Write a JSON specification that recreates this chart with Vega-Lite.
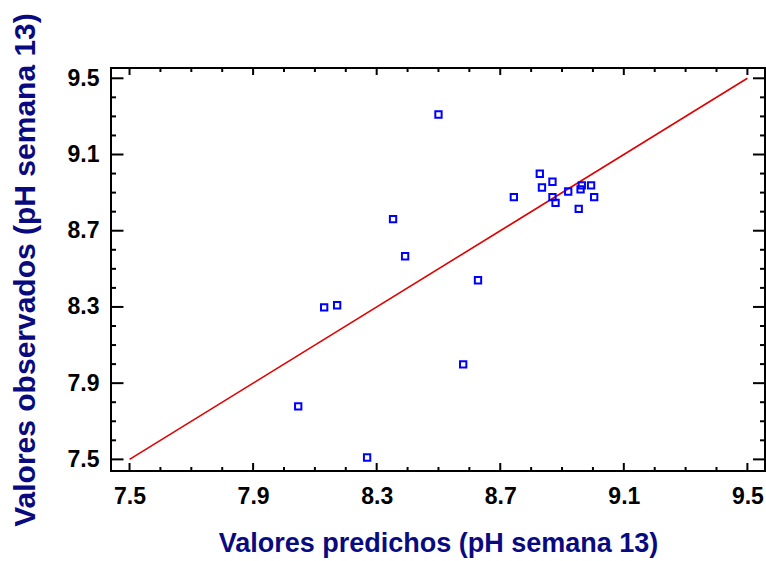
{
  "$schema": "https://vega.github.io/schema/vega-lite/v6.json",
  "width": 654,
  "height": 403,
  "autosize": {"type": "none"},
  "padding": {"left": 111, "top": 68, "right": 1, "bottom": 90},
  "background": "white",
  "config": {
    "view": {"stroke": "black", "strokeWidth": 2},
    "axis": {
      "grid": false,
      "domain": false,
      "ticks": false,
      "labelFont": "Liberation Sans",
      "labelFontWeight": "bold",
      "labelFontSize": 23,
      "labelColor": "black",
      "labelOverlap": false,
      "labelFlush": false,
      "titleFont": "Liberation Sans",
      "titleFontWeight": "bold",
      "titleColor": "#0a0a80"
    }
  },
  "datasets": {
    "points": [
      {"predicho": 8.50, "observado": 9.31},
      {"predicho": 8.353, "observado": 8.761},
      {"predicho": 8.392, "observado": 8.566},
      {"predicho": 8.628, "observado": 8.440},
      {"predicho": 8.130, "observado": 8.298},
      {"predicho": 8.172, "observado": 8.309},
      {"predicho": 8.580, "observado": 7.999},
      {"predicho": 8.046, "observado": 7.778},
      {"predicho": 8.269, "observado": 7.510},
      {"predicho": 8.744, "observado": 8.876},
      {"predicho": 8.828, "observado": 8.999},
      {"predicho": 8.869, "observado": 8.957},
      {"predicho": 8.835, "observado": 8.927},
      {"predicho": 8.869, "observado": 8.876},
      {"predicho": 8.879, "observado": 8.846},
      {"predicho": 8.920, "observado": 8.906},
      {"predicho": 8.954, "observado": 8.815},
      {"predicho": 8.964, "observado": 8.938},
      {"predicho": 8.960, "observado": 8.917},
      {"predicho": 8.994, "observado": 8.938},
      {"predicho": 9.004, "observado": 8.876}
    ],
    "fit": [
      {"predicho": 7.5, "observado": 7.5},
      {"predicho": 9.5, "observado": 9.5}
    ],
    "marcas": [
      {"valor": 7.5, "tipo": "mayor"}, {"valor": 7.6, "tipo": "menor"}, {"valor": 7.7, "tipo": "menor"},
      {"valor": 7.8, "tipo": "menor"}, {"valor": 7.9, "tipo": "mayor"}, {"valor": 8.0, "tipo": "menor"},
      {"valor": 8.1, "tipo": "menor"}, {"valor": 8.2, "tipo": "menor"}, {"valor": 8.3, "tipo": "mayor"},
      {"valor": 8.4, "tipo": "menor"}, {"valor": 8.5, "tipo": "menor"}, {"valor": 8.6, "tipo": "menor"},
      {"valor": 8.7, "tipo": "mayor"}, {"valor": 8.8, "tipo": "menor"}, {"valor": 8.9, "tipo": "menor"},
      {"valor": 9.0, "tipo": "menor"}, {"valor": 9.1, "tipo": "mayor"}, {"valor": 9.2, "tipo": "menor"},
      {"valor": 9.3, "tipo": "menor"}, {"valor": 9.4, "tipo": "menor"}, {"valor": 9.5, "tipo": "mayor"}
    ]
  },
  "layer": [
    {
      "data": {"name": "marcas"},
      "mark": {"type": "tick", "orient": "vertical", "thickness": 2, "color": "black", "opacity": 1, "clip": true},
      "encoding": {
        "x": {"field": "valor", "type": "quantitative", "scale": {"domain": [7.44, 9.557], "nice": false, "zero": false}, "axis": null},
        "y": {"datum": 7.439, "type": "quantitative", "scale": {"domain": [7.439, 9.554], "nice": false, "zero": false}, "axis": null},
        "size": {"field": "tipo", "type": "ordinal", "scale": {"domain": ["mayor", "menor"], "range": [16, 8]}, "legend": null}
      }
    },
    {
      "data": {"name": "marcas"},
      "mark": {"type": "tick", "orient": "vertical", "thickness": 2, "color": "black", "opacity": 1, "clip": true},
      "encoding": {
        "x": {"field": "valor", "type": "quantitative", "axis": null},
        "y": {"datum": 9.554, "type": "quantitative", "axis": null},
        "size": {"field": "tipo", "type": "ordinal", "scale": {"domain": ["mayor", "menor"], "range": [14, 8]}, "legend": null}
      }
    },
    {
      "data": {"name": "marcas"},
      "mark": {"type": "tick", "orient": "horizontal", "thickness": 2, "color": "black", "opacity": 1, "clip": true},
      "encoding": {
        "y": {"field": "valor", "type": "quantitative", "axis": null},
        "x": {"datum": 7.44, "type": "quantitative", "axis": null},
        "size": {"field": "tipo", "type": "ordinal", "scale": {"domain": ["mayor", "menor"], "range": [25, 10]}, "legend": null}
      }
    },
    {
      "data": {"name": "marcas"},
      "mark": {"type": "tick", "orient": "horizontal", "thickness": 2, "color": "black", "opacity": 1, "clip": true},
      "encoding": {
        "y": {"field": "valor", "type": "quantitative", "axis": null},
        "x": {"datum": 9.557, "type": "quantitative", "axis": null},
        "size": {"field": "tipo", "type": "ordinal", "scale": {"domain": ["mayor", "menor"], "range": [24, 10]}, "legend": null}
      }
    },
    {
      "data": {"name": "fit"},
      "mark": {"type": "line", "color": "#e00000", "strokeWidth": 1.6},
      "encoding": {
        "x": {"field": "predicho", "type": "quantitative", "axis": null},
        "y": {"field": "observado", "type": "quantitative", "axis": null}
      }
    },
    {
      "data": {"name": "points"},
      "mark": {"type": "point", "shape": "square", "filled": false, "color": "#0000ff", "size": 40, "strokeWidth": 2, "opacity": 1},
      "encoding": {
        "x": {
          "field": "predicho", "type": "quantitative",
          "axis": {
            "orient": "bottom",
            "title": "Valores predichos (pH semana 13)",
            "titleFontSize": 27,
            "titlePadding": 22,
            "values": [7.5, 7.9, 8.3, 8.7, 9.1, 9.5],
            "format": ".1f",
            "labelPadding": 14
          }
        },
        "y": {
          "field": "observado", "type": "quantitative",
          "axis": {
            "orient": "left",
            "title": "Valores observados (pH semana 13)",
            "titleFontSize": 30,
            "titlePadding": 27,
            "values": [7.5, 7.9, 8.3, 8.7, 9.1, 9.5],
            "format": ".1f",
            "labelPadding": 12
          }
        }
      }
    }
  ],
  "resolve": {"axis": {"x": "independent", "y": "independent"}, "scale": {"size": "independent"}}
}
